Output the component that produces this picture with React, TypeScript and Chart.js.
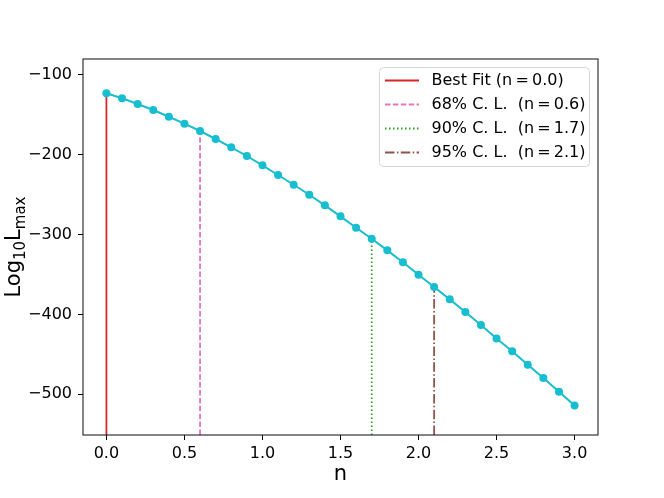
import React, { useEffect, useRef } from "react";
import { Chart, registerables } from "chart.js";

Chart.register(...registerables);

// ---- data ----
const nValues = [
  0.0, 0.1, 0.2, 0.3, 0.4, 0.5, 0.6, 0.7, 0.8, 0.9, 1.0,
  1.1, 1.2, 1.3, 1.4, 1.5, 1.6, 1.7, 1.8, 1.9, 2.0,
  2.1, 2.2, 2.3, 2.4, 2.5, 2.6, 2.7, 2.8, 2.9, 3.0,
];
const logLmax = [
  -122.9, -129.2, -136.3, -143.9, -152.3, -161.0, -170.2, -180.2, -190.6, -201.5, -213.2,
  -225.3, -237.5, -250.0, -263.3, -277.1, -291.4, -305.1, -319.7, -334.7, -350.3,
  -365.7, -381.1, -397.0, -413.3, -430.0, -446.2, -463.0, -479.7, -496.8, -513.9,
];
const xTicks = [0.0, 0.5, 1.0, 1.5, 2.0, 2.5, 3.0];
const yTicks = [-100, -200, -300, -400, -500];
const clLabels = [
  "Best Fit (n\u2009=\u20090.0)",
  "68% C. L.  (n\u2009=\u20090.6)",
  "90% C. L.  (n\u2009=\u20091.7)",
  "95% C. L.  (n\u2009=\u20092.1)",
];
const clN = [0.0, 0.6, 1.7, 2.1];
const clColors = ["#d62728", "#e377c2", "#2ca02c", "#8c564b"];
const clDash: number[][] = [[], [5.5, 2.4], [1.5, 2.5], [9.5, 2.4, 1.5, 2.4]];
const curveColor = "#17becf";
const xLabel = "n";
const yLabelMain1 = "Log";
const yLabelSub1 = "10";
const yLabelMain2 = "L";
const yLabelSub2 = "max";

const X_MIN = -0.15;
const X_MAX = 3.15;
const Y_MIN = -551;
const Y_MAX = -80;

const FONT = "'DejaVu Sans', 'Liberation Sans', sans-serif";

const curveAt = (n: number) => logLmax[nValues.findIndex((v) => Math.abs(v - n) < 1e-9)];

const framePlugin = {
  id: "frameAndLabels",
  afterDatasetsDraw(chart: any) {
    const { ctx, chartArea } = chart;
    ctx.save();
    ctx.strokeStyle = "#222";
    ctx.lineWidth = 1.1;
    ctx.strokeRect(chartArea.left, chartArea.top, chartArea.right - chartArea.left, chartArea.bottom - chartArea.top);
    ctx.restore();
  },
  afterDraw(chart: any) {
    const { ctx, chartArea } = chart;
    ctx.save();
    // x label
    ctx.fillStyle = "#000";
    ctx.font = `21px ${FONT}`;
    ctx.textAlign = "center";
    ctx.textBaseline = "alphabetic";
    ctx.fillText(xLabel, (chartArea.left + chartArea.right) / 2, 480);

    // y label with subscripts
    const mainFont = `21px ${FONT}`;
    const subFont = `15px ${FONT}`;
    ctx.font = mainFont;
    const w1 = ctx.measureText(yLabelMain1).width;
    const w3 = ctx.measureText(yLabelMain2).width;
    ctx.font = subFont;
    const w2 = ctx.measureText(yLabelSub1).width;
    const w4 = ctx.measureText(yLabelSub2).width;
    const total = w1 + w2 + w3 + w4;
    ctx.translate(19.5, (chartArea.top + chartArea.bottom) / 2);
    ctx.rotate(-Math.PI / 2);
    ctx.textAlign = "left";
    let x = -total / 2;
    ctx.font = mainFont;
    ctx.fillText(yLabelMain1, x, 0);
    x += w1;
    ctx.font = subFont;
    ctx.fillText(yLabelSub1, x, 5);
    x += w2;
    ctx.font = mainFont;
    ctx.fillText(yLabelMain2, x, 0);
    x += w3;
    ctx.font = subFont;
    ctx.fillText(yLabelSub2, x, 5);
    ctx.restore();

    // legend
    ctx.save();
    const bx = 379.5, by = 67.5, bw = 210, bh = 99;
    ctx.beginPath();
    (ctx as any).roundRect(bx, by, bw, bh, 4);
    ctx.fillStyle = "rgba(255,255,255,0.8)";
    ctx.fill();
    ctx.strokeStyle = "#d6d6d6";
    ctx.lineWidth = 1;
    ctx.stroke();
    const items = chart.data.datasets.filter((d: any) => d.isCL);
    items.forEach((d: any, i: number) => {
      const cy = 80.5 + i * 24;
      ctx.beginPath();
      ctx.strokeStyle = d.borderColor;
      ctx.lineWidth = 1.8;
      ctx.setLineDash(d.borderDash || []);
      ctx.moveTo(385, cy);
      ctx.lineTo(419, cy);
      ctx.stroke();
      ctx.setLineDash([]);
      ctx.fillStyle = "#000";
      ctx.font = `16px ${FONT}`;
      ctx.textAlign = "left";
      ctx.textBaseline = "middle";
      ctx.fillText(d.label, 431.5, cy + 0.5);
    });
    ctx.restore();
  },
};

export default function App() {
  const canvasRef = useRef<HTMLCanvasElement | null>(null);

  useEffect(() => {
    const canvas = canvasRef.current;
    if (!canvas) return;

    const curve = {
      label: "curve",
      data: nValues.map((n, i) => ({ x: n, y: logLmax[i] })),
      borderColor: curveColor,
      backgroundColor: curveColor,
      borderWidth: 2,
      pointRadius: 4,
      pointBackgroundColor: curveColor,
      pointBorderWidth: 0,
      order: 0,
      isCL: false,
    };
    const vlines = clN.map((n, i) => ({
      label: clLabels[i],
      data: [
        { x: n, y: Y_MIN },
        { x: n, y: curveAt(n) },
      ],
      borderColor: clColors[i],
      backgroundColor: clColors[i],
      borderWidth: 1.8,
      borderDash: clDash[i],
      pointRadius: 0,
      order: 1,
      isCL: true,
    }));

    const chart = new Chart(canvas, {
      type: "line",
      data: { datasets: [curve, ...vlines] as any },
      options: {
        responsive: false,
        animation: false,
        devicePixelRatio: 1,
        layout: { padding: { left: 0, top: 59, right: 66, bottom: 0 } },
        plugins: { legend: { display: false }, tooltip: { enabled: false } },
        scales: {
          x: {
            type: "linear",
            min: X_MIN,
            max: X_MAX,
            afterBuildTicks: (scale: any) => {
              scale.ticks = xTicks.map((v) => ({ value: v }));
            },
            afterFit: (scale: any) => {
              scale.height = 63;
            },
            border: { display: false },
            grid: {
              drawOnChartArea: false,
              drawTicks: true,
              tickLength: 5,
              tickColor: "#000",
              tickWidth: 1,
            },
            ticks: {
              color: "#000",
              font: { family: FONT, size: 16 },
              padding: 4,
              maxRotation: 0,
              autoSkip: false,
              callback: (v: any) => Number(v).toFixed(1),
            },
          },
          y: {
            type: "linear",
            min: Y_MIN,
            max: Y_MAX,
            afterBuildTicks: (scale: any) => {
              scale.ticks = yTicks.map((v) => ({ value: v }));
            },
            afterFit: (scale: any) => {
              scale.width = 83;
            },
            border: { display: false },
            grid: {
              drawOnChartArea: false,
              drawTicks: true,
              tickLength: 5,
              tickColor: "#000",
              tickWidth: 1,
            },
            ticks: {
              color: "#000",
              font: { family: FONT, size: 16 },
              padding: 6,
              autoSkip: false,
              callback: (v: any) => String(v).replace("-", "\u2212"),
            },
          },
        },
      },
      plugins: [framePlugin],
    });

    return () => chart.destroy();
  }, []);

  return (
    <div style={{ position: "fixed", left: 0, top: 0, width: 664, height: 498, background: "#fff" }}>
      <canvas ref={canvasRef} width={664} height={498} />
    </div>
  );
}
